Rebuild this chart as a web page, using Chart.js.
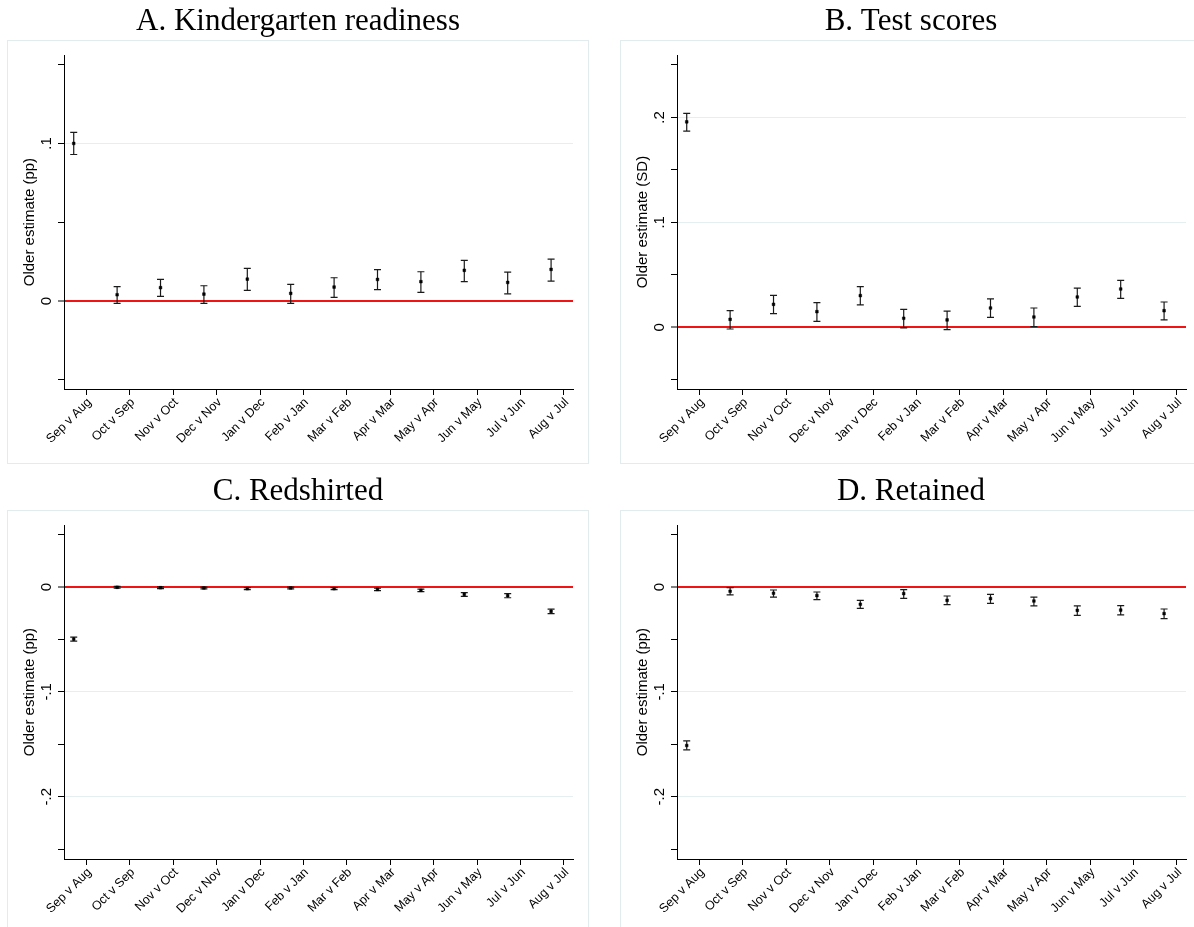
<!DOCTYPE html>
<html lang="en">
<head>
    <meta charset="UTF-8" />
    <meta name="viewport" content="width=device-width, initial-scale=1.0" />
    <title>Older estimates by birth month</title>
    <script src="https://cdn.jsdelivr.net/npm/chart.js@4.4.1/dist/chart.umd.min.js"></script>
    <style>
      html, body { margin: 0; padding: 0; background: #fff; overflow: hidden; }
      body { position: relative; width: 1194px; height: 927px; }
      .frame { position: absolute; width: 580px; height: 422px; border: 1px solid #e3ecec; }
      .panel { position: absolute; width: 596px; height: 470px; }
      .panel canvas { position: absolute; left: 0; top: 0; }
    </style>
</head>
<body>
    <div class="frame" style="left:7px; top:40px;"></div>
    <div class="frame" style="left:620px; top:40px;"></div>
    <div class="frame" style="left:7px; top:510px;"></div>
    <div class="frame" style="left:620px; top:510px;"></div>

    <div class="panel" style="left:0px; top:0px;"><canvas id="chartA" width="596" height="470"></canvas></div>
    <div class="panel" style="left:613px; top:0px;"><canvas id="chartB" width="596" height="470"></canvas></div>
    <div class="panel" style="left:0px; top:470px;"><canvas id="chartC" width="596" height="470"></canvas></div>
    <div class="panel" style="left:613px; top:470px;"><canvas id="chartD" width="596" height="470"></canvas></div>

    <script>
      // birth month comparisons (x axis)
      const months = ['Sep v Aug', 'Oct v Sep', 'Nov v Oct', 'Dec v Nov', 'Jan v Dec', 'Feb v Jan',
                      'Mar v Feb', 'Apr v Mar', 'May v Apr', 'Jun v May', 'Jul v Jun', 'Aug v Jul'];

      // A. Kindergarten readiness
      const readyEst = [0.1000, 0.0040, 0.0085, 0.0044, 0.0139, 0.0049, 0.0089, 0.0137, 0.0123, 0.0195, 0.0118, 0.0201];
      const readyLo  = [0.0930, -0.0015, 0.0030, -0.0015, 0.0068, -0.0015, 0.0023, 0.0072, 0.0055, 0.0123, 0.0046, 0.0127];
      const readyHi  = [0.1070, 0.0091, 0.0137, 0.0097, 0.0207, 0.0106, 0.0148, 0.0199, 0.0186, 0.0258, 0.0184, 0.0266];

      // B. Test scores
      const scoreEst = [0.1958, 0.0076, 0.0219, 0.0149, 0.0302, 0.0086, 0.0070, 0.0184, 0.0098, 0.0289, 0.0365, 0.0158];
      const scoreLo  = [0.1870, -0.0016, 0.0130, 0.0057, 0.0213, -0.0006, -0.0022, 0.0095, 0.0006, 0.0200, 0.0276, 0.0070];
      const scoreHi  = [0.2038, 0.0158, 0.0305, 0.0235, 0.0387, 0.0171, 0.0155, 0.0270, 0.0184, 0.0374, 0.0448, 0.0241];

      // C. Redshirted
      const redEst = [-0.0497, -0.0003, -0.0007, -0.0010, -0.0016, -0.0010, -0.0016, -0.0023, -0.0032, -0.0071, -0.0083, -0.0233];
      const redLo  = [-0.0516, -0.0011, -0.0015, -0.0019, -0.0025, -0.0019, -0.0026, -0.0034, -0.0044, -0.0089, -0.0103, -0.0255];
      const redHi  = [-0.0478, 0.0005, 0.0001, -0.0001, -0.0007, -0.0001, -0.0006, -0.0012, -0.0020, -0.0053, -0.0063, -0.0211];

      // D. Retained
      const retEst = [-0.1512, -0.0041, -0.0060, -0.0082, -0.0165, -0.0063, -0.0127, -0.0111, -0.0134, -0.0223, -0.0220, -0.0254];
      const retLo  = [-0.1553, -0.0076, -0.0096, -0.0121, -0.0204, -0.0108, -0.0169, -0.0156, -0.0181, -0.0271, -0.0267, -0.0302];
      const retHi  = [-0.1468, -0.0006, -0.0029, -0.0048, -0.0127, -0.0025, -0.0086, -0.0070, -0.0096, -0.0181, -0.0178, -0.0210];

      // y ticks and their labels
      const yTicksA = [-0.05, 0, 0.05, 0.1, 0.15];
      const yLabelsA = ['', '0', '', '.1', ''];
      const yTicksB = [-0.05, 0, 0.05, 0.1, 0.15, 0.2, 0.25];
      const yLabelsB = ['', '0', '', '.1', '', '.2', ''];
      const yTicksCD = [-0.25, -0.2, -0.15, -0.1, -0.05, 0, 0.05];
      const yLabelsCD = ['', '-.2', '', '-.1', '', '0', ''];

      const sans = 'Liberation Sans, Arial, sans-serif';
      const serif = 'Liberation Serif, Times New Roman, serif';

      function makePanel(id, title, yTitle, est, lo, hi, yMin, yMax, yTicks, yLabels, labelPad) {
        const dots = est.map((v, i) => ({x: i + 1, y: v}));
        const caps = [];
        const bars = [];
        est.forEach((v, i) => {
          caps.push({x: i + 1, y: lo[i]}, {x: i + 1, y: hi[i]});
          bars.push({x: i + 1, y: lo[i]}, {x: i + 1, y: hi[i]}, {x: i + 1, y: null});
        });

        return new Chart(document.getElementById(id), {
          type: 'scatter',
          data: {
            datasets: [
              { data: dots, pointStyle: 'rect', pointRadius: 1.9, backgroundColor: '#000', borderColor: '#000', borderWidth: 0.5 },
              { data: caps, pointStyle: 'line', pointRadius: 3.5, borderColor: '#1a1a1a', borderWidth: 1.2 },
              { data: bars, showLine: true, spanGaps: false, pointRadius: 0, borderColor: '#1a1a1a', borderWidth: 1.2 }
            ]
          },
          options: {
            responsive: false,
            animation: false,
            events: [],
            layout: { padding: 0 },
            plugins: {
              legend: { display: false },
              tooltip: { enabled: false },
              title: {
                display: true,
                text: title,
                color: '#000',
                font: { family: serif, size: 31, weight: 'normal' },
                padding: { top: 3, bottom: 15 }
              }
            },
            scales: {
              x: {
                type: 'linear',
                min: 0.776,
                max: 12.505,
                afterBuildTicks: s => { s.ticks = months.map((m, i) => ({ value: i + 1.293 })); },
                afterFit: s => { s.height = 81; },
                ticks: {
                  autoSkip: false, minRotation: 45, maxRotation: 45, padding: 0, labelOffset: 3,
                  color: '#000', font: { family: sans, size: 12.5 },
                  callback: (v, i) => months[i]
                },
                grid: { drawOnChartArea: false, tickLength: 6, tickColor: '#000', tickWidth: 1 },
                border: { display: true, color: '#000', width: 1 }
              },
              y: {
                type: 'linear',
                min: yMin,
                max: yMax,
                afterBuildTicks: s => { s.ticks = yTicks.map(v => ({ value: v })); },
                afterFit: s => { s.width = 64; },
                ticks: {
                  autoSkip: false, minRotation: 90, maxRotation: 90, crossAlign: 'center', padding: labelPad,
                  color: '#000', font: { family: sans, size: 15 },
                  callback: (v, i) => yLabels[i]
                },
                grid: {
                  color: c => {
                    if (c.tick && c.tick.value === 0) return '#f01414';
                    return yLabels[c.index] ? '#e6eff0' : 'rgba(0,0,0,0)';
                  },
                  lineWidth: c => (c.tick && c.tick.value === 0) ? 2 : 1,
                  tickLength: 6, tickColor: '#000', tickWidth: 1
                },
                border: { display: true, color: '#000', width: 1 },
                title: {
                  display: true,
                  text: yTitle,
                  color: '#000',
                  font: { family: sans, size: 15 },
                  padding: { top: 21, bottom: 0 }
                }
              },
              // empty right-hand margin, keeps the title centred on the whole panel
              yRight: {
                type: 'linear',
                position: 'right',
                afterFit: s => { s.width = 23; },
                ticks: { display: false },
                grid: { display: false },
                border: { display: false }
              }
            }
          }
        });
      }

      makePanel('chartA', 'A. Kindergarten readiness', 'Older estimate (pp)', readyEst, readyLo, readyHi,
                -0.0558, 0.156, yTicksA, yLabelsA, 5);
      makePanel('chartB', 'B. Test scores', 'Older estimate (SD)', scoreEst, scoreLo, scoreHi,
                -0.0588, 0.2593, yTicksB, yLabelsB, 5);
      makePanel('chartC', 'C. Redshirted', 'Older estimate (pp)', redEst, redLo, redHi,
                -0.2594, 0.0589, yTicksCD, yLabelsCD, 2);
      makePanel('chartD', 'D. Retained', 'Older estimate (pp)', retEst, retLo, retHi,
                -0.2594, 0.0589, yTicksCD, yLabelsCD, 2);
    </script>
</body>
</html>
